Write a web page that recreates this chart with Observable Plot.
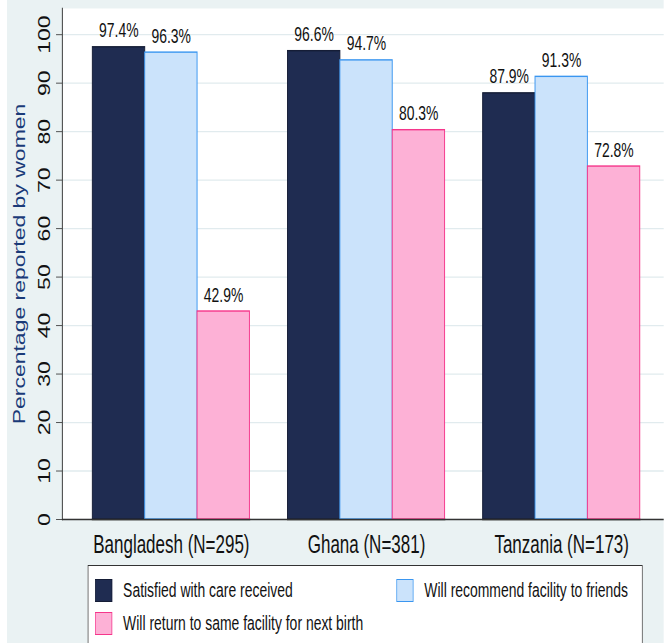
<!DOCTYPE html>
<html>
<head>
<meta charset="utf-8">
<script src="https://cdn.jsdelivr.net/npm/d3@7"></script>
<script src="https://cdn.jsdelivr.net/npm/@observablehq/plot@0.6"></script>
<style>
html, body { margin: 0; padding: 0; background: #ffffff; overflow: hidden; }
#wrap {
  position: absolute; left: 0; top: 0; width: 976px; height: 660px;
  transform: scaleX(0.68); transform-origin: 0 0;
  background: linear-gradient(to right, #ffffff 0, #ffffff 11px, #eaf2f3 11px);
  font-family: "Liberation Sans", Arial, sans-serif;
}
.layer { position: absolute; left: 0; top: 0; }
#legend {
  position: absolute; left: 129px; top: 565px; width: 816px; height: 90px;
  background: #ffffff; border: 1.5px solid #333; box-sizing: border-box;
}
.item { position: absolute; display: flex; align-items: center; font-size: 20.5px; color: #111; white-space: nowrap; }
.sw { width: 25px; height: 23px; box-sizing: border-box; border: 1.5px solid; margin-right: 16px; }
</style>
</head>
<body>
<div id="wrap">
  <div id="back" class="layer"></div>
  <div id="front" class="layer"></div>
  <div id="legend"></div>
</div>
<script>
// ---- data ----
const countries = ["Bangladesh (N=295)", "Ghana (N=381)", "Tanzania (N=173)"];
const series = [
  "Satisfied with care received",
  "Will recommend facility to friends",
  "Will return to same facility for next birth"
];
const satisfied = [97.4, 96.6, 87.9];
const recommend = [96.3, 94.7, 91.3];
const returnNext = [42.9, 80.3, 72.8];
const yTicks = [0, 10, 20, 30, 40, 50, 60, 70, 80, 90, 100];
const yTitle = "Percentage reported by women";
const fills = ["#1f2c51", "#cbe3fb", "#fdb1d6"];
const strokes = ["#151d36", "#3a96f0", "#f5368b"];

const values = [satisfied, recommend, returnNext];
const rows = countries.flatMap((c, i) => series.map((s, j) => ({
  country: c, series: s, value: values[j][i], fill: fills[j], stroke: strokes[j]
})));

const font = '"Liberation Sans", Arial, sans-serif';
const dims = { width: 976, height: 562, marginLeft: 91.2, marginRight: 0, marginTop: 8, marginBottom: 43 };
const yScale = { domain: [0, 105.4], label: null };
const baseStyle = { background: "transparent", fontFamily: font, maxWidth: "none", overflow: "visible", color: "#111" };

// background layer: plot area, grid, y axis, y title
const back = Plot.plot({
  ...dims,
  style: baseStyle,
  y: yScale,
  marks: [
    Plot.frame({ fill: "#ffffff", stroke: null }),
    Plot.ruleY(yTicks, { stroke: "#e1ebee", strokeWidth: 1.3 }),
    Plot.ruleY([0], { stroke: "#333", strokeWidth: 1.4 }),
    Plot.frame({ anchor: "left", stroke: "#333", strokeWidth: 1.4 }),
    Plot.axisY(yTicks, {
      anchor: "left", tickSize: 8.8, tickPadding: 9, tickRotate: -90,
      fontSize: 23, label: null, stroke: "#333", fill: "#111"
    }),
    Plot.text([yTitle], {
      text: d => d, frameAnchor: "left", dx: -72, rotate: -90,
      textAnchor: "middle", lineAnchor: "top", fontSize: 23, fill: "#1a3a78"
    })
  ]
});
document.getElementById("back").appendChild(back);

// front layer: grouped bars, value labels, country labels
const front = Plot.plot({
  ...dims,
  style: baseStyle,
  fx: { domain: countries, paddingInner: 0.187, paddingOuter: 0.132, align: 0.56, label: null },
  x: { domain: series, padding: 0, axis: null },
  y: { ...yScale, axis: null },
  marks: [
    Plot.barY(rows, {
      fx: "country", x: "series", y: "value",
      fill: "fill", stroke: "stroke", strokeWidth: 1.4
    }),
    Plot.ruleY([0], { stroke: "#333", strokeWidth: 1.4 }),
    Plot.text(rows, {
      fx: "country", x: "series", y: "value",
      text: d => d.value.toFixed(1) + "%",
      lineAnchor: "bottom", dy: -10, fontSize: 20.5, fill: "#111"
    }),
    Plot.axisFx({ anchor: "bottom", tickSize: 0, tickPadding: 16, fontSize: 25, label: null, fill: "#111" })
  ]
});
document.getElementById("front").appendChild(front);

// ---- legend ----
const legend = document.getElementById("legend");
const pos = [[10, 12], [453, 12], [10, 45]];
series.forEach((s, j) => {
  const it = document.createElement("div");
  it.className = "item";
  it.style.left = pos[j][0] + "px";
  it.style.top = pos[j][1] + "px";
  const sw = document.createElement("div");
  sw.className = "sw";
  sw.style.background = fills[j];
  sw.style.borderColor = strokes[j];
  const tx = document.createElement("span");
  tx.textContent = s;
  it.appendChild(sw);
  it.appendChild(tx);
  legend.appendChild(it);
});
</script>
</body>
</html>
